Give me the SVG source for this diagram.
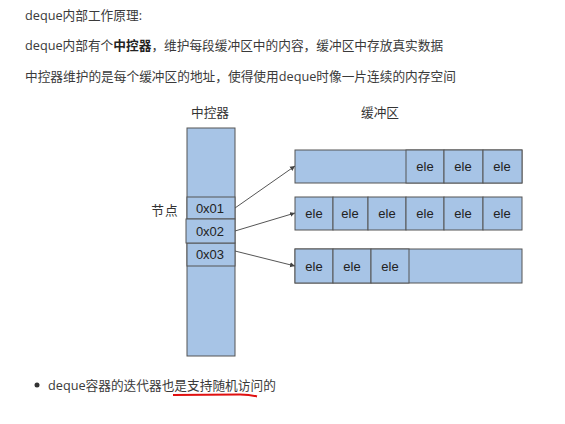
<svg xmlns="http://www.w3.org/2000/svg" width="565" height="424" viewBox="0 0 565 424">
<style>
.t{font-family:"Open Sans","Noto Sans CJK SC",sans-serif;fill:#3a3a3a;font-size:12.7px}
.l{font-family:"Open Sans","Noto Sans CJK SC",sans-serif;fill:#333;font-size:12.7px;text-anchor:middle}
.c{fill:#a7c4e6;stroke:#555;stroke-width:1}
.e{font-family:"Liberation Sans","Noto Sans CJK SC",sans-serif;fill:#222;font-size:13px;text-anchor:middle}
.a{stroke:#555;stroke-width:1;fill:none;marker-end:url(#ah)}
</style>
<defs>
<marker id="ah" markerWidth="6" markerHeight="6" refX="5" refY="3" orient="auto" markerUnits="userSpaceOnUse">
<path d="M0,0.5 L5,3 L0,5.5 z" fill="#444"/>
</marker>
</defs>
<rect width="565" height="424" fill="#fff"/>
<text class="t" x="25" y="20">deque内部工作原理:</text>
<text class="t" x="25" y="50">deque内部有个<tspan font-weight="bold" fill="#222">中控器</tspan>，维护每段缓冲区中的内容，缓冲区中存放真实数据</text>
<text class="t" x="25" y="81">中控器维护的是每个缓冲区的地址，使得使用deque时像一片连续的内存空间</text>

<g id="controller">
<text class="l" x="210" y="117">中控器</text>
<rect class="c" x="187" y="128" width="48" height="228"/>
<text class="l" x="165" y="215" letter-spacing="1">节点</text>
</g>
<g id="n0x01">
<rect class="c" x="187" y="197" width="48" height="22"/>
<text class="e" x="210" y="213">0x01</text>
</g>
<g id="n0x03">
<rect class="c" x="187" y="243" width="48" height="23"/>
<text class="e" x="210" y="259">0x03</text>
</g>
<g id="n0x02">
<rect class="c" x="186" y="219" width="49" height="24" stroke="#222"/>
<text class="e" x="210" y="236">0x02</text>
</g>

<g id="buffer-label"><text class="l" x="380" y="117">缓冲区</text></g>

<g id="buf1">
<rect class="c" x="295" y="150" width="227" height="33"/>
<rect class="c" x="406" y="150" width="38" height="33" stroke="#222"/>
<rect class="c" x="444" y="150" width="39" height="33"/>
<rect class="c" x="483" y="150" width="39" height="33"/>
<text class="e" x="425" y="171">ele</text>
<text class="e" x="463" y="171">ele</text>
<text class="e" x="502" y="171">ele</text>
</g>
<g id="buf2">
<rect class="c" x="295" y="197" width="38" height="33"/>
<rect class="c" x="333" y="197" width="35" height="33"/>
<rect class="c" x="368" y="197" width="38" height="33"/>
<rect class="c" x="406" y="197" width="38" height="33"/>
<rect class="c" x="444" y="197" width="39" height="33"/>
<rect class="c" x="483" y="197" width="39" height="33"/>
<text class="e" x="314" y="218">ele</text>
<text class="e" x="350" y="218">ele</text>
<text class="e" x="387" y="218">ele</text>
<text class="e" x="425" y="218">ele</text>
<text class="e" x="463" y="218">ele</text>
<text class="e" x="502" y="218">ele</text>
</g>
<g id="buf3">
<rect class="c" x="295" y="249" width="227" height="34"/>
<rect class="c" x="295" y="249" width="38" height="34"/>
<rect class="c" x="333" y="249" width="38" height="34"/>
<rect class="c" x="371" y="249" width="38" height="34"/>
<text class="e" x="314" y="271">ele</text>
<text class="e" x="352" y="271">ele</text>
<text class="e" x="390" y="271">ele</text>
</g>

<g id="connectors">
<line class="a" x1="235" y1="208" x2="295" y2="166"/>
<line class="a" x1="235" y1="231" x2="295" y2="213"/>
<line class="a" x1="235" y1="251" x2="295" y2="266"/>
</g>

<circle cx="37" cy="385" r="2.5" fill="#333"/>
<text class="t" x="48" y="390">deque容器的迭代器也是支持随机访问的</text>
<path d="M173,395 L240,394.5 Q250,394.5 257,396.5" stroke="#e01010" stroke-width="2" fill="none"/>
</svg>
